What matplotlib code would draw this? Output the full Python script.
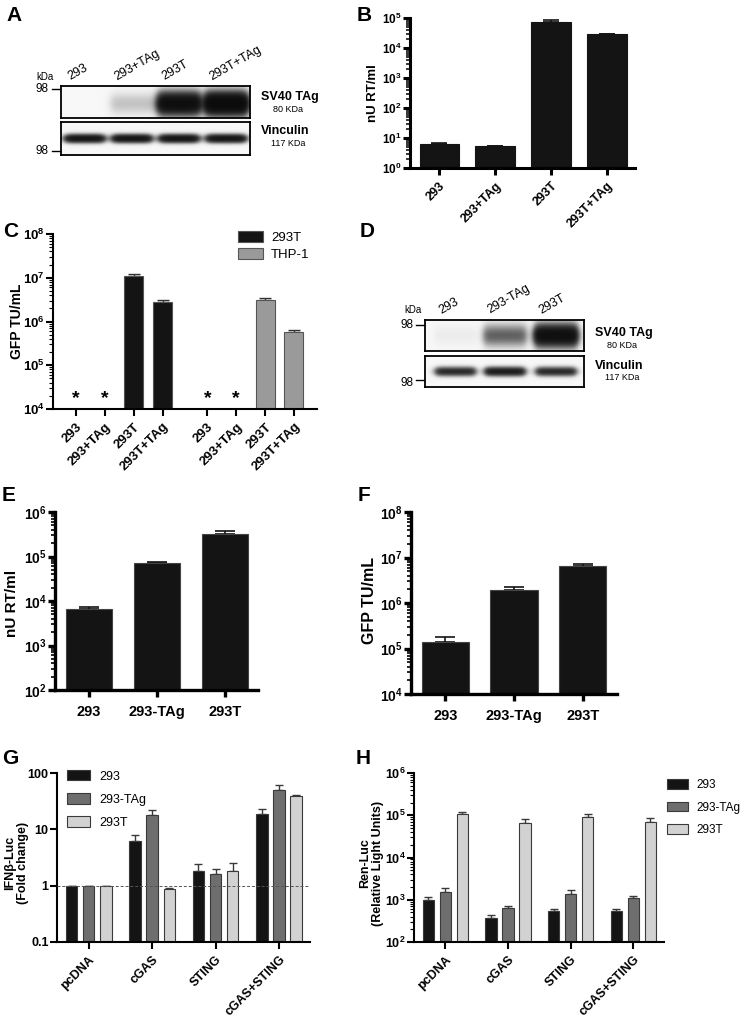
import numpy as np
import matplotlib
matplotlib.use('Agg')
import matplotlib.pyplot as plt
from matplotlib.ticker import LogLocator, FuncFormatter, NullFormatter, FixedLocator

plt.rcParams['font.family'] = ['Liberation Sans', 'DejaVu Sans']
plt.rcParams['mathtext.fontset'] = 'custom'
plt.rcParams['mathtext.rm'] = 'Liberation Sans'
plt.rcParams['mathtext.bf'] = 'Liberation Sans:bold'

W, H = 744, 1017

# ---- data ----
# A: western blot band strengths (0 = none)
A_lanes = ['293', '293+TAg', '293T', '293T+TAg']
A_tag_band = [0.0, 0.10, 1.6, 2.0]
A_vinc_band = [1.2, 1.2, 1.2, 1.2]

# B: RT activity
B_cells = ['293', '293+TAg', '293T', '293T+TAg']
B_vals = [6.3, 5.4, 75000, 29000]
B_err = [0.5, 0.1, 9000, 600]

# C: GFP titres (0 = not detected, marked with *)
C_cells = ['293', '293+TAg', '293T', '293T+TAg']
C_293T = [0, 0, 1.12e7, 2.75e6]
C_293T_err = [0, 0, 1.3e6, 3e5]
C_THP1 = [0, 0, 3.1e6, 5.9e5]
C_THP1_err = [0, 0, 4e5, 5e4]

# D: western blot
D_lanes = ['293', '293-TAg', '293T']
D_tag_band = [0.02, 0.4, 1.5]
D_vinc_band = [0.8, 1.0, 0.8]

# E / F
EF_cells = ['293', '293-TAg', '293T']
E_vals = [6500, 70000, 3.25e5]
E_err = [700, 4000, 4.5e4]
F_vals = [1.37e5, 1.93e6, 6.5e6]
F_err = [4.3e4, 3.6e5, 8e5]

# G / H
GH_groups = ['pcDNA', 'cGAS', 'STING', 'cGAS+STING']
GH_series = ['293', '293-TAg', '293T']
G_293 = [1, 6.3, 1.85, 19]
G_293_err = [0, 1.5, 0.55, 4]
G_TAg = [1, 18, 1.6, 50]
G_TAg_err = [0, 4, 0.4, 12]
G_293T = [1, 0.88, 1.85, 39]
G_293T_err = [0, 0.04, 0.65, 2]
H_293 = [1000, 360, 530, 530]
H_293_err = [150, 80, 70, 70]
H_TAg = [1550, 640, 1400, 1100]
H_TAg_err = [350, 60, 300, 150]
H_293T = [1.05e5, 6.5e4, 9e4, 7e4]
H_293T_err = [1.5e4, 1.5e4, 2e4, 1.5e4]

BLACK = '#141414'
fig = plt.figure(figsize=(W / 100, H / 100), dpi=100)


def box(l, t, r, b):
    return [l / W, 1 - b / H, (r - l) / W, (b - t) / H]


def ftext(x, y, s, **kw):
    fig.text(x / W, 1 - y / H, s, **kw)


def pow_fmt(v, pos):
    return r'$\mathbf{10^{%d}}$' % int(round(np.log10(v)))


def style_axes(ax, lw):
    for s in ['top', 'right']:
        ax.spines[s].set_visible(False)
    for s in ['left', 'bottom']:
        ax.spines[s].set_linewidth(lw)
    ax.tick_params(which='major', direction='out', length=5, width=lw)
    ax.tick_params(which='minor', direction='out', length=3, width=max(lw * 0.5, 0.8))
    ax.tick_params(axis='x', which='minor', bottom=False)


def log_y(ax, lo, hi, fs):
    ax.set_yscale('log')
    ax.set_ylim(lo, hi)
    ax.yaxis.set_major_locator(LogLocator(base=10, numticks=20))
    ax.yaxis.set_minor_locator(LogLocator(base=10, subs=np.arange(2, 10), numticks=20))
    ax.yaxis.set_major_formatter(FuncFormatter(pow_fmt))
    ax.yaxis.set_minor_formatter(NullFormatter())
    ax.tick_params(axis='y', labelsize=fs, pad=1)


def bars(ax, x, vals, errs, width, color, edge, ecolor, cap=4, lw=0.8):
    ax.bar(x, vals, width, color=color, edgecolor=edge, linewidth=lw, zorder=2)
    ax.errorbar(x, vals, yerr=[np.zeros(len(vals)), errs], fmt='none', ecolor=ecolor,
                elinewidth=1.2, capsize=cap, capthick=1.2, zorder=1)


def blot(ax, centers, inten, yc, sy, hw):
    h, w = 90, 400
    yy, xx = np.mgrid[0:1:h * 1j, 0:1:w * 1j]
    dens = np.zeros((h, w))
    for c, a in zip(centers, inten):
        px = 1 / (1 + np.exp((np.abs(xx - c) - hw) / 0.012))
        py = np.exp(-0.5 * ((yy - yc) / sy) ** 2)
        dens += a * px * py
    img = 0.97 - 0.93 * (1 - np.exp(-2.5 * dens))
    ax.imshow(img, cmap='gray', vmin=0, vmax=1, extent=(0, 1, 0, 1), origin='lower',
              aspect='auto', interpolation='bilinear')
    ax.set_xticks([])
    ax.set_yticks([])
    ax.set_xlim(0, 1)
    ax.set_ylim(0, 1)
    for s in ax.spines.values():
        s.set_linewidth(1.3)


# ---- panel letters ----
for letter, (x, y) in zip('ABCDEFGH', [(6, 6), (357, 6), (3, 222), (360, 222),
                                      (2, 486), (358, 486), (2, 749), (356, 749)]):
    ftext(x, y, letter, fontsize=15, fontweight='bold', ha='left', va='top')

# ---- A: blot ----
a_cent = [0.125, 0.375, 0.625, 0.875]
axA1 = fig.add_axes(box(61, 86, 250, 118))
blot(axA1, a_cent, A_tag_band, 0.45, 0.22, 0.11)
axA2 = fig.add_axes(box(61, 122, 250, 155))
blot(axA2, a_cent, A_vinc_band, 0.5, 0.08, 0.1)
for c, lab in zip(a_cent, A_lanes):
    axA1.text(c - 0.07, 1.1, lab, transform=axA1.transAxes, rotation=30,
              rotation_mode='anchor', ha='left', va='bottom', fontsize=9)
ftext(45, 77, 'kDa', fontsize=7, ha='center', va='center')
ftext(49, 89, '98', fontsize=8.5, ha='right', va='center')
ftext(49, 151, '98', fontsize=8.5, ha='right', va='center')
fig.add_artist(plt.Line2D([52 / W, 60 / W], [1 - 89 / H] * 2, color='k', lw=1))
fig.add_artist(plt.Line2D([52 / W, 60 / W], [1 - 151 / H] * 2, color='k', lw=1))
ftext(261, 97, 'SV40 TAg', fontsize=9, fontweight='bold', ha='left', va='center')
ftext(288, 109, '80 KDa', fontsize=6.5, ha='center', va='center')
ftext(261, 131, 'Vinculin', fontsize=9, fontweight='bold', ha='left', va='center')
ftext(288, 143, '117 KDa', fontsize=6.5, ha='center', va='center')

# ---- B ----
axB = fig.add_axes(box(410, 18, 635, 168))
xb = np.arange(len(B_cells))
bars(axB, xb, B_vals, B_err, 0.7, BLACK, BLACK, BLACK, cap=6)
style_axes(axB, 2.2)
log_y(axB, 1, 1e5, 8.5)
axB.set_xlim(-0.52, 3.5)
axB.set_xticks(xb)
axB.set_xticklabels(B_cells, rotation=45, ha='right', rotation_mode='anchor',
                    fontsize=9, fontweight='bold')
ftext(373, 93, 'nU RT/ml', fontsize=9.5, fontweight='bold', rotation=90, ha='center', va='center')

# ---- C ----
axC = fig.add_axes(box(53, 234, 317, 409))
xc1 = np.arange(4)
xc2 = xc1 + 4.55
style_axes(axC, 1.5)
log_y(axC, 1e4, 1e8, 9.5)
for xs, vals, errs, col, ec, lab in [(xc1, C_293T, C_293T_err, BLACK, '#555555', '293T'),
                                     (xc2, C_THP1, C_THP1_err, '#9a9a9a', '#555555', 'THP-1')]:
    vals = np.array(vals, dtype=float)
    ok = vals > 0
    axC.bar(xs[ok], vals[ok], 0.66, color=col, edgecolor=ec, linewidth=0.8, zorder=2, label=lab)
    axC.errorbar(xs[ok], vals[ok], yerr=[np.zeros(ok.sum()), np.array(errs)[ok]], fmt='none',
                 ecolor='#333333', elinewidth=1, capsize=4, capthick=1, zorder=1)
    for x in xs[~ok]:
        axC.text(x, 1.75e4, '*', ha='center', va='center', fontsize=14, fontweight='bold')
axC.set_xlim(-0.8, 8.35)
axC.set_xticks(np.concatenate([xc1, xc2]))
axC.set_xticklabels(C_cells + C_cells, rotation=45, ha='right', rotation_mode='anchor',
                    fontsize=9.5, fontweight='bold')
axC.legend(loc='upper left', bbox_to_anchor=(238 / W, 1 - 231 / H), bbox_transform=fig.transFigure,
           frameon=False, fontsize=9.5, handlelength=1.9, handleheight=0.9, labelspacing=0.3,
           handletextpad=0.6, borderaxespad=0, borderpad=0)
ftext(17, 321, 'GFP TU/mL', fontsize=10, fontweight='bold', rotation=90, ha='center', va='center')

# ---- D: blot ----
d_cent = [0.19, 0.5, 0.82]
axD1 = fig.add_axes(box(425, 320, 584, 351))
blot(axD1, d_cent, D_tag_band, 0.5, 0.22, 0.13)
axD2 = fig.add_axes(box(425, 356, 584, 387))
blot(axD2, d_cent, D_vinc_band, 0.5, 0.09, 0.12)
for c, lab in zip(d_cent, D_lanes):
    axD1.text(c - 0.08, 1.12, lab, transform=axD1.transAxes, rotation=30,
              rotation_mode='anchor', ha='left', va='bottom', fontsize=9)
ftext(413, 310, 'kDa', fontsize=7, ha='center', va='center')
ftext(414, 325, '98', fontsize=8.5, ha='right', va='center')
ftext(414, 383, '98', fontsize=8.5, ha='right', va='center')
fig.add_artist(plt.Line2D([416 / W, 424 / W], [1 - 325 / H] * 2, color='k', lw=1))
fig.add_artist(plt.Line2D([416 / W, 424 / W], [1 - 380 / H] * 2, color='k', lw=1))
ftext(595, 333, 'SV40 TAg', fontsize=9, fontweight='bold', ha='left', va='center')
ftext(622, 345, '80 KDa', fontsize=6.5, ha='center', va='center')
ftext(595, 366, 'Vinculin', fontsize=9, fontweight='bold', ha='left', va='center')
ftext(622, 378, '117 KDa', fontsize=6.5, ha='center', va='center')

# ---- E ----
axE = fig.add_axes(box(55, 512, 258, 690))
xe = np.arange(3)
bars(axE, xe, E_vals, E_err, 0.68, BLACK, '#444444', BLACK, cap=7)
style_axes(axE, 2.4)
log_y(axE, 1e2, 1e6, 10)
axE.set_xlim(-0.5, 2.49)
axE.set_xticks(xe)
axE.set_xticklabels(EF_cells, fontsize=10.5, fontweight='bold')
axE.tick_params(axis='x', length=5, pad=6)
ftext(12, 603, 'nU RT/ml', fontsize=11, fontweight='bold', rotation=90, ha='center', va='center')

# ---- F ----
axF = fig.add_axes(box(411, 512, 617, 694))
bars(axF, xe, F_vals, F_err, 0.69, BLACK, '#444444', BLACK, cap=7)
style_axes(axF, 2.4)
log_y(axF, 1e4, 1e8, 10)
axF.set_xlim(-0.5, 2.5)
axF.set_xticks(xe)
axF.set_xticklabels(EF_cells, fontsize=10.5, fontweight='bold')
axF.tick_params(axis='x', length=5, pad=6)
ftext(369, 600, 'GFP TU/mL', fontsize=11.5, fontweight='bold', rotation=90, ha='center', va='center')

# ---- G / H ----
gh_cols = [BLACK, '#6e6e6e', '#d2d2d2']
offs = [-0.27, 0, 0.27]
xg = np.arange(len(GH_groups))


def grouped(ax, series, errs):
    for i, (v, e) in enumerate(zip(series, errs)):
        ax.bar(xg + offs[i], v, 0.18, color=gh_cols[i], edgecolor='#3a3a3a', linewidth=0.8,
               zorder=2, label=GH_series[i])
        ax.errorbar(xg + offs[i], v, yerr=[np.zeros(len(v)), e], fmt='none', ecolor='#3a3a3a',
                    elinewidth=1, capsize=3, capthick=1, zorder=1)
    ax.set_xlim(-0.5, 3.49)
    ax.set_xticks(xg)
    ax.set_xticklabels(GH_groups, rotation=45, ha='right', rotation_mode='anchor',
                       fontsize=9, fontweight='bold')


axG = fig.add_axes(box(57, 773, 310, 942))
grouped(axG, [G_293, G_TAg, G_293T], [G_293_err, G_TAg_err, G_293T_err])
style_axes(axG, 1.5)
axG.set_yscale('log')
axG.set_ylim(0.1, 100)
axG.yaxis.set_major_locator(FixedLocator([0.1, 1, 10, 100]))
axG.yaxis.set_minor_locator(FixedLocator([]))
axG.yaxis.set_major_formatter(FuncFormatter(lambda v, p: '%g' % v))
axG.tick_params(axis='y', labelsize=9, pad=1)
for t in axG.get_yticklabels():
    t.set_fontweight('bold')
axG.axhline(1, color='#555555', lw=0.7, ls=(0, (3, 2)), zorder=3)
axG.legend(loc='upper left', bbox_to_anchor=(67 / W, 1 - 770 / H), bbox_transform=fig.transFigure,
           frameon=False, fontsize=9, handlelength=1.8, handleheight=0.9, labelspacing=0.85,
           handletextpad=0.8, borderaxespad=0, borderpad=0)
ftext(10, 863, 'IFNβ-Luc', fontsize=9, fontweight='bold', rotation=90, ha='center', va='center')
ftext(23, 863, '(Fold change)', fontsize=9, fontweight='bold', rotation=90, ha='center', va='center')

axH = fig.add_axes(box(414, 773, 664, 942))
grouped(axH, [H_293, H_TAg, H_293T], [H_293_err, H_TAg_err, H_293T_err])
style_axes(axH, 1.5)
log_y(axH, 1e2, 1e6, 9)
axH.legend(loc='upper left', bbox_to_anchor=(667 / W, 1 - 779 / H), bbox_transform=fig.transFigure,
           frameon=False, fontsize=8.5, handlelength=1.8, handleheight=0.9, labelspacing=0.9,
           handletextpad=0.7, borderaxespad=0, borderpad=0)
ftext(365, 863, 'Ren-Luc', fontsize=9, fontweight='bold', rotation=90, ha='center', va='center')
ftext(378, 863, '(Relative Light Units)', fontsize=9, fontweight='bold', rotation=90,
      ha='center', va='center')

fig.savefig('out.png', dpi=100)
